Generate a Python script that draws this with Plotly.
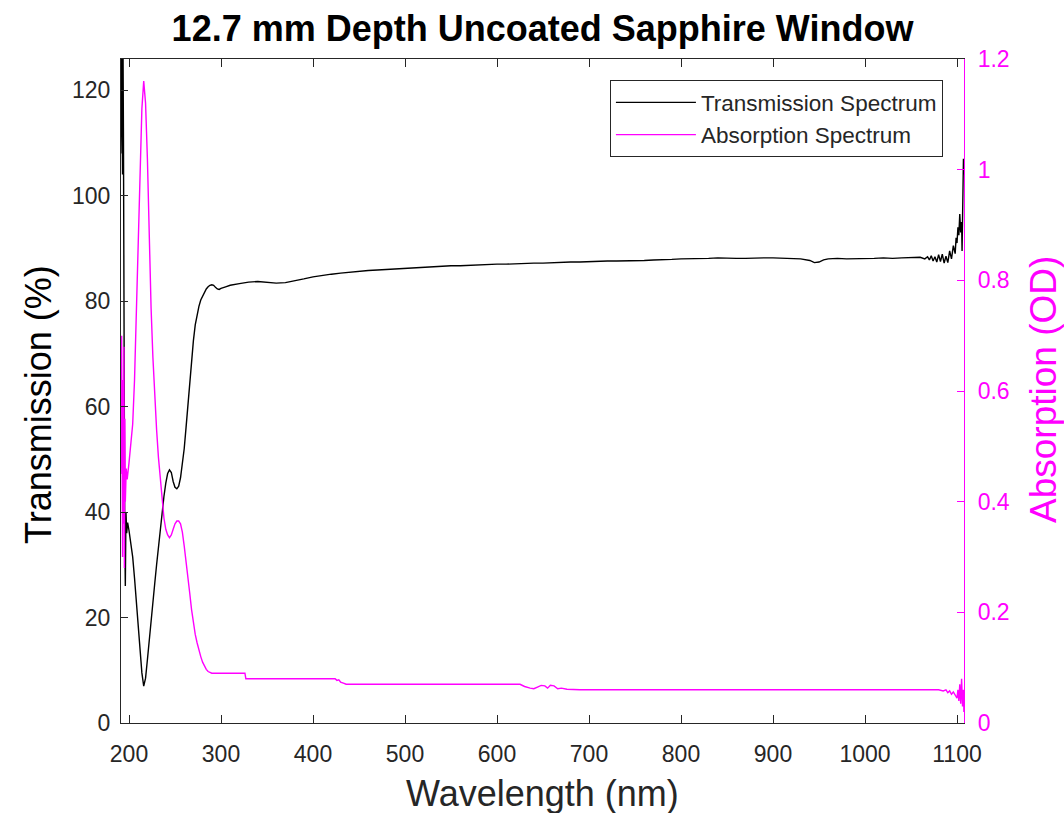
import plotly.graph_objects as go

# ---------------- data ----------------
wl_trans = [191, 192, 193, 193.5, 194, 194.7, 195.3, 196, 196.7, 197.5, 198.5, 200,
            202, 204, 206, 208, 210, 212, 214, 216, 218, 220, 222, 224, 226, 228,
            230, 232, 234, 236, 238, 240, 242, 244, 246, 248, 250, 252, 254, 256,
            258, 260, 262, 264, 266, 268, 270, 272, 274, 276, 278, 280, 282, 284,
            286, 288, 290, 292, 294, 296, 298, 300, 305, 310, 320, 330, 340, 350,
            360, 370, 380, 390, 400, 410, 420, 430, 440, 450, 460, 470, 480, 490,
            500, 510, 520, 530, 540, 550, 560, 570, 580, 590, 600, 610, 620, 630,
            640, 650, 660, 670, 680, 690, 700, 710, 720, 730, 740, 750, 760, 770,
            780, 790, 800, 810, 820, 830, 840, 850, 860, 870, 880, 890, 900, 910,
            920, 930, 940, 945, 950, 955, 960, 970, 980, 990, 1000, 1010, 1020, 1030,
            1040, 1050, 1060, 1065, 1068, 1070, 1072, 1074, 1076, 1078, 1080, 1082,
            1084, 1086, 1088, 1090, 1092, 1094, 1096, 1098, 1099, 1100, 1101, 1102,
            1103, 1104, 1105, 1105.5, 1106, 1107, 1107.5]
transmission = [108, 128, 104, 128, 110, 48, 38, 26, 40, 36, 38, 36.5,
                34, 31.5, 27.5, 23, 18.5, 13.5, 9.5, 7.0, 8.5, 12, 16, 19.5, 23, 26.5,
                30, 33.5, 37, 40, 43, 45.5, 47.3, 48, 47.5, 45.8, 44.7, 44.4, 44.9, 46.5,
                49, 52, 56, 60.5, 65, 69, 72.5, 75.5, 77.5, 79, 80.2, 81, 81.8, 82.3,
                82.7, 83.0, 83.1, 83.0, 82.6, 82.3, 82.2, 82.4, 82.7, 83.0, 83.3, 83.6, 83.7, 83.5,
                83.4, 83.5, 83.8, 84.2, 84.6, 84.9, 85.1, 85.3, 85.5, 85.6, 85.8, 85.9, 86.0, 86.2,
                86.3, 86.4, 86.5, 86.5, 86.6, 86.7, 86.7, 86.8, 86.9, 86.9, 87.0, 87.0, 87.1, 87.1,
                87.2, 87.2, 87.3, 87.3, 87.4, 87.4, 87.5, 87.5, 87.6, 87.6, 87.6, 87.7, 87.7, 87.8,
                87.8, 87.9, 88.0, 88.0, 88.0, 88.1, 88.2, 88.1, 88.1, 88.1, 88.2, 88.2, 88.2, 88.1,
                88.1, 88.0, 87.7, 87.3, 87.4, 87.8, 88.0, 88.1, 88.0, 88.0, 88.1, 88.1, 88.2, 88.1,
                88.2, 88.2, 88.3, 88.0, 88.4, 87.8, 88.6, 87.6, 88.4, 87.4, 88.8, 87.5,
                88.9, 87.2, 88.5, 87.3, 89.5, 88.0, 90.5, 89.0, 92.0, 91.0, 94.0, 92.5,
                96.5, 93.0, 95.0, 89.5, 97.0, 107, 104]

wl_abs = [191, 192, 193, 193.5, 194, 194.5, 195, 195.5, 196, 197, 198, 200, 202, 204,
          206, 208, 210, 212, 214, 216, 218, 220, 222, 224, 226, 228, 230, 232, 234,
          236, 238, 240, 242, 244, 246, 248, 250, 252, 254, 256, 258, 260, 262, 264,
          266, 268, 270, 272, 274, 276, 278, 280, 282, 284, 286, 288, 290, 326, 327,
          424, 426, 428, 430, 433, 436, 625, 630, 636, 640, 644, 648, 652, 655, 658,
          662, 666, 670, 676, 690, 1080, 1085, 1088, 1090, 1092, 1094, 1096, 1098,
          1100, 1101, 1102, 1103, 1104, 1105, 1106, 1107, 1107.5]
absorption = [0.45, 0.70, 0.30, 0.62, 0.36, 0.68, 0.28, 0.55, 0.40, 0.46, 0.44, 0.47, 0.50, 0.54,
              0.62, 0.74, 0.86, 1.00, 1.11, 1.16, 1.12, 1.02, 0.88, 0.75, 0.66, 0.59, 0.53, 0.48, 0.44,
              0.40, 0.37, 0.35, 0.34, 0.335, 0.34, 0.35, 0.36, 0.365, 0.365, 0.36, 0.345, 0.32, 0.295, 0.265,
              0.235, 0.205, 0.18, 0.16, 0.145, 0.13, 0.12, 0.11, 0.103, 0.097, 0.093, 0.091, 0.09, 0.09, 0.08,
              0.08, 0.077, 0.078, 0.074, 0.072, 0.07, 0.07, 0.066, 0.063, 0.062, 0.065, 0.068, 0.067, 0.063, 0.068,
              0.067, 0.062, 0.063, 0.061, 0.06, 0.06, 0.058, 0.06, 0.055, 0.058, 0.052, 0.056, 0.05,
              0.045, 0.06, 0.04, 0.07, 0.035, 0.08, 0.03, 0.06, 0.02]

x_ticks = [200, 300, 400, 500, 600, 700, 800, 900, 1000, 1100]
y_left_ticks = [0, 20, 40, 60, 80, 100, 120]
y_right_ticks = [0, 0.2, 0.4, 0.6, 0.8, 1.0, 1.2]
y_right_labels = ["0", "0.2", "0.4", "0.6", "0.8", "1", "1.2"]

FONT = "Liberation Sans, Arial, Helvetica, sans-serif"
DARK = "#262626"
MAG = "#FF00FF"

fig = go.Figure()
fig.add_trace(go.Scatter(x=wl_trans, y=transmission, mode="lines", name="Transmission Spectrum",
                         line=dict(color="#000000", width=1.4), yaxis="y"))
fig.add_trace(go.Scatter(x=wl_abs, y=absorption, mode="lines", name="Absorption Spectrum",
                         line=dict(color=MAG, width=1.4), yaxis="y2"))

fig.update_layout(
    width=1064, height=813,
    margin=dict(l=121, r=100, t=59, b=90),
    paper_bgcolor="white", plot_bgcolor="white",
    font=dict(family=FONT, color=DARK),
    title=dict(text="<b>12.7 mm Depth Uncoated Sapphire Window</b>",
               x=0.5, xref="paper", xanchor="center",
               y=1 - 28 / 813, yref="container", yanchor="middle",
               font=dict(size=36, color="#000000", family=FONT)),
    xaxis=dict(range=[191.3, 1107.6], tickvals=x_ticks, ticks="inside", ticklen=8,
               tickcolor=DARK, showline=True, linecolor=DARK, linewidth=1.2, mirror="ticks",
               showgrid=False, zeroline=False, tickfont=dict(size=23, color=DARK),
               ticklabelstandoff=10, automargin=False),
    yaxis=dict(range=[0, 125.9], tickvals=y_left_ticks, ticks="inside", ticklen=7,
               tickcolor=DARK, showline=True, linecolor=DARK, linewidth=1.2,
               showgrid=False, zeroline=False, tickfont=dict(size=23, color=DARK),
               ticklabelstandoff=5, automargin=False),
    yaxis2=dict(range=[0, 1.2], tickvals=y_right_ticks, ticktext=y_right_labels,
                overlaying="y", side="right", ticks="inside", ticklen=7,
                tickcolor=MAG, showline=True, linecolor=MAG, linewidth=1.2,
                showgrid=False, zeroline=False, tickfont=dict(size=23, color=MAG),
                ticklabelstandoff=8, automargin=False),
    legend=dict(x=0.975, xanchor="right", y=0.968, yanchor="top",
                bgcolor="white", bordercolor=DARK, borderwidth=1,
                font=dict(size=22.5, color=DARK), itemwidth=80, tracegroupgap=0),
    showlegend=True,
    annotations=[
        dict(text="Wavelength (nm)", xref="paper", yref="paper",
             x=0.5, y=-(793 - 723) / 664, xanchor="center", yanchor="middle",
             showarrow=False, font=dict(size=36, color=DARK, family=FONT)),
        dict(text="Transmission (%)", textangle=-90, xref="paper", yref="paper",
             x=(38 - 121) / 843, y=(723 - 405) / 664, xanchor="center", yanchor="middle",
             showarrow=False, font=dict(size=36, color="#000000", family=FONT)),
        dict(text="Absorption (OD)", textangle=-90, xref="paper", yref="paper",
             x=(1043 - 121) / 843, y=(723 - 390) / 664, xanchor="center", yanchor="middle",
             showarrow=False, font=dict(size=37, color=MAG, family=FONT)),
    ],
)

fig.write_html("out.html")
